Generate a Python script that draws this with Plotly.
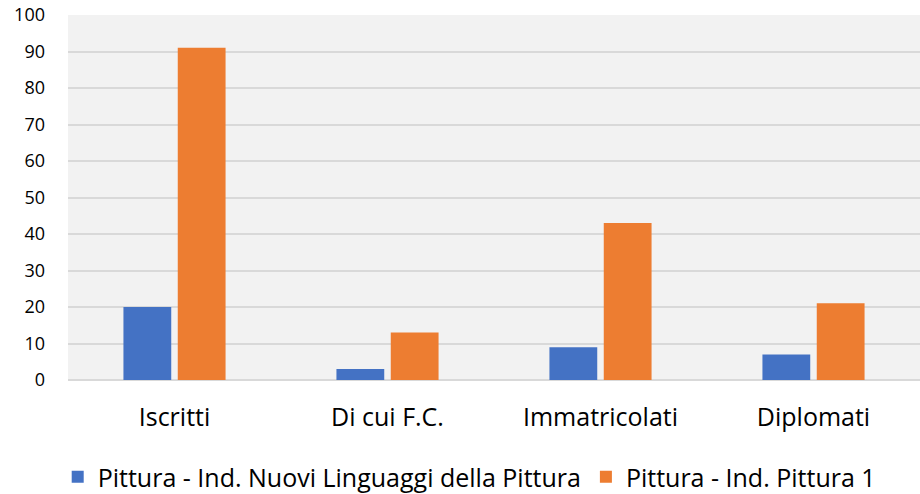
import plotly.graph_objects as go

categories = ["Iscritti", "Di cui F.C.", "Immatricolati", "Diplomati"]
series_names = ["Pittura - Ind. Nuovi Linguaggi della Pittura", "Pittura - Ind. Pittura 1"]
values_nuovi = [20, 3, 9, 7]
values_pittura1 = [91, 13, 43, 21]
y_ticks = [0, 10, 20, 30, 40, 50, 60, 70, 80, 90, 100]

colors = ["#4472C4", "#ED7D31"]

fig = go.Figure()
for name, vals, col in zip(series_names, [values_nuovi, values_pittura1], colors):
    fig.add_trace(go.Bar(x=categories, y=vals, name=name, marker_color=col,
                         marker_line_width=0))

font_family = "Open Sans, sans-serif"
fig.update_layout(
    width=920, height=494,
    margin=dict(l=68, r=0, t=15, b=114, autoexpand=False),
    paper_bgcolor="white",
    plot_bgcolor="#F2F2F2",
    barmode="group",
    bargap=0.49,
    bargroupgap=0.12,
    font=dict(family=font_family, size=18, color="#000000"),
    showlegend=True,
    legend=dict(orientation="h", xref="container", x=0.51, xanchor="center",
                y=-0.266, yanchor="middle",
                font=dict(size=25), itemwidth=30, traceorder="normal"),
    yaxis=dict(range=[0, 100], tickvals=y_ticks, showgrid=True, gridcolor="#D9D9D9",
               gridwidth=2, zeroline=True, zerolinecolor="#D9D9D9", zerolinewidth=2,
               ticks="", ticklabelstandoff=22, tickfont=dict(size=18), automargin=False,
               ticklabeloverflow="allow"),
    xaxis=dict(showgrid=False, ticks="", tickfont=dict(size=25), ticklabelstandoff=20,
               automargin=False),
)
fig.write_html("out.html", config={"displayModeBar": False},
               post_script="document.body.style.margin='0';")
